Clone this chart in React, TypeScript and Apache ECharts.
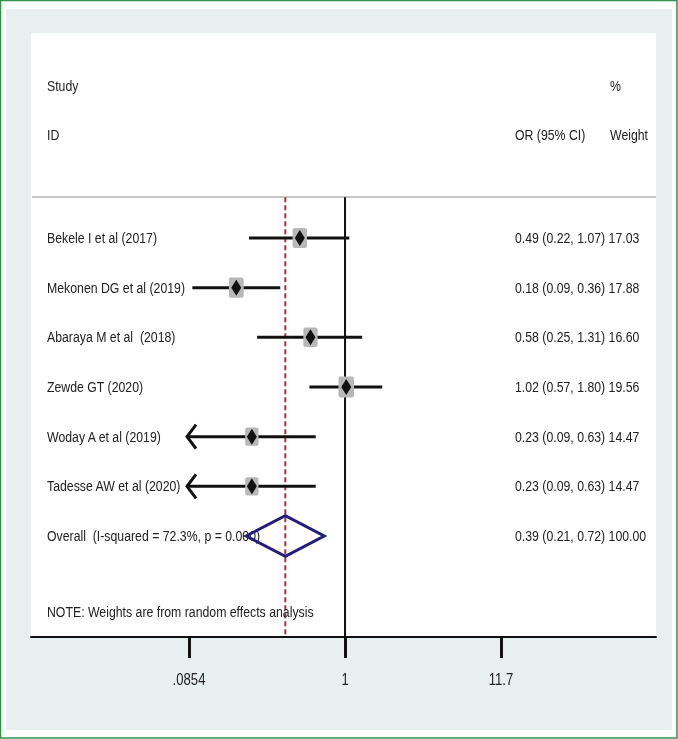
import React, { useEffect, useRef } from "react";
import * as echarts from "echarts";

// ---- data ----
const studies = [
  "Bekele I et al (2017)",
  "Mekonen DG et al (2019)",
  "Abaraya M et al  (2018)",
  "Zewde GT (2020)",
  "Woday A et al (2019)",
  "Tadesse AW et al (2020)",
];
const orValues = [0.49, 0.18, 0.58, 1.02, 0.23, 0.23];
const ciLower = [0.22, 0.09, 0.25, 0.57, 0.09, 0.09];
const ciUpper = [1.07, 0.36, 1.31, 1.8, 0.63, 0.63];
const weights = [17.03, 17.88, 16.6, 19.56, 14.47, 14.47];
const truncatedLeft = [false, false, false, false, true, true];

const overallLabel = "Overall  (I-squared = 72.3%, p = 0.000)";
const overallOR = 0.39;
const overallLower = 0.21;
const overallUpper = 0.72;
const overallWeight = 100.0;

const tickValues = [0.0854, 1, 11.7];
const tickLabels = [".0854", "1", "11.7"];

const FONT = "'Liberation Sans', Arial, Helvetica, sans-serif";
const TEXT_COLOR = "#222";
const FS = 15;
const SX = 0.82;

function txt(s: string, x: number, y: number, size = FS, align = "left") {
  return {
    type: "text",
    x,
    y,
    scaleX: SX,
    z: 5,
    style: {
      text: s,
      fill: TEXT_COLOR,
      font: `${size}px ${FONT}`,
      align,
      verticalAlign: "middle",
    },
  };
}

export default function App() {
  const ref = useRef<HTMLDivElement>(null);

  useEffect(() => {
    if (!ref.current) return;
    const chart = echarts.init(ref.current, undefined, { renderer: "svg" });

    const n = studies.length;
    const overallRow = n;
    const ln = (v: number) => Math.log(v);
    const ciData = studies.map((_, i) => [
      ln(ciLower[i]),
      ln(ciUpper[i]),
      i,
      truncatedLeft[i] ? 1 : 0,
    ]);
    const pointData = studies.map((_, i) => [ln(orValues[i]), i, weights[i]]);
    const textRows = [...studies.map((_, i) => i), overallRow];
    const fmtRow = (i: number) =>
      i < n
        ? `${orValues[i].toFixed(2)} (${ciLower[i].toFixed(2)}, ${ciUpper[i].toFixed(2)}) ${weights[i].toFixed(2)}`
        : `${overallOR.toFixed(2)} (${overallLower.toFixed(2)}, ${overallUpper.toFixed(2)}) ${overallWeight.toFixed(2)}`;

    const yMin = -4.127;
    const yMax = 8.033;
    const lineTop = -0.82;
    const tickLn = tickValues.map(ln);

    chart.setOption({
      animation: false,
      backgroundColor: "transparent",
      grid: { left: 31, right: 22, top: 33, bottom: 102 },
      xAxis: {
        type: "value",
        min: -4.953,
        max: 4.905,
        axisLine: { show: true, onZero: false, lineStyle: { color: "#111", width: 2 } },
        axisTick: {
          show: true,
          customValues: tickLn,
          length: 21,
          lineStyle: { color: "#111", width: 3 },
        },
        axisLabel: { show: false },
        splitLine: { show: false },
      },
      yAxis: {
        type: "value",
        inverse: true,
        min: yMin,
        max: yMax,
        show: false,
      },
      graphic: [
        {
          type: "rect",
          z: -20,
          shape: { x: 0.5, y: 0.5, width: 676.5, height: 737.5 },
          style: { fill: "#fff", stroke: "#2f9447", lineWidth: 1.5 },
        },
        {
          type: "rect",
          z: -19,
          shape: { x: 6, y: 9, width: 666, height: 721 },
          style: { fill: "#e8eff1" },
        },
        {
          type: "rect",
          z: -18,
          shape: { x: 31, y: 33, width: 625, height: 604 },
          style: { fill: "#ffffff" },
        },
        {
          type: "line",
          z: -17,
          shape: { x1: 32, y1: 197, x2: 656, y2: 197 },
          style: { stroke: "#c8c8c8", lineWidth: 2 },
        },
        txt("Study", 47, 86),
        txt("ID", 47, 135),
        txt("%", 610, 86),
        txt("OR (95% CI)", 515, 135),
        txt("Weight", 610, 135),
        txt("NOTE: Weights are from random effects analysis", 47, 612),
      ],
      series: [
        {
          type: "line",
          z: 1,
          symbol: "none",
          silent: true,
          lineStyle: { color: "#111", width: 2 },
          data: [
            [0, lineTop],
            [0, yMax],
          ],
        },
        {
          type: "line",
          z: 1,
          symbol: "none",
          silent: true,
          lineStyle: { color: "#a3323f", width: 2, type: [5, 3] },
          data: [
            [ln(overallOR), lineTop],
            [ln(overallOR), yMax],
          ],
        },
        {
          // tick labels, placed by the x scale
          type: "custom",
          z: 3,
          silent: true,
          clip: false,
          data: tickValues.map((t, k) => [ln(t), yMax, k]),
          encode: { x: 0, y: 1 },
          renderItem: (params: any, api: any) => {
            const p = api.coord([api.value(0), api.value(1)]);
            const k = api.value(2);
            return {
              type: "text",
              x: p[0],
              y: p[1] + 43,
              scaleX: SX,
              style: {
                text: tickLabels[k],
                fill: TEXT_COLOR,
                font: `16px ${FONT}`,
                align: "center",
                verticalAlign: "middle",
              },
            };
          },
        },
        {
          type: "custom",
          z: 3,
          silent: true,
          data: textRows.map((i) => [0, i]),
          encode: { x: 0, y: 1 },
          renderItem: (params: any, api: any) => {
            const row = api.value(1);
            const y = api.coord([0, row])[1];
            const cs = params.coordSys;
            const name = row < n ? studies[row] : overallLabel;
            return {
              type: "group",
              children: [
                txt(name, cs.x + 16, y),
                txt(fmtRow(row), cs.x + 484, y),
              ],
            };
          },
        },
        {
          type: "custom",
          z: 4,
          silent: true,
          data: ciData,
          encode: { x: [0, 1], y: 2 },
          renderItem: (params: any, api: any) => {
            const lo = api.value(0);
            const hi = api.value(1);
            const row = api.value(2);
            const trunc = api.value(3) === 1;
            const start = trunc ? tickLn[0] : lo;
            const p1 = api.coord([start, row]);
            const p2 = api.coord([hi, row]);
            const children: any[] = [
              {
                type: "line",
                shape: { x1: trunc ? p1[0] - 1 : p1[0], y1: p1[1], x2: p2[0], y2: p2[1] },
                style: { stroke: "#111", lineWidth: 3 },
              },
            ];
            if (trunc) {
              const tx = p1[0] - 2;
              children.push({
                type: "polyline",
                shape: {
                  points: [
                    [tx + 9, p1[1] - 12],
                    [tx, p1[1]],
                    [tx + 9, p1[1] + 12],
                  ],
                },
                style: { stroke: "#111", lineWidth: 3, fill: "none" },
              });
            }
            return { type: "group", children };
          },
        },
        {
          type: "custom",
          z: 5,
          silent: true,
          data: pointData,
          encode: { x: 0, y: 1 },
          renderItem: (params: any, api: any) => {
            const p = api.coord([api.value(0), api.value(1)]);
            const s = Math.sqrt(api.value(2));
            const w = 3.5 * s;
            const h = 4.8 * s;
            return {
              type: "group",
              children: [
                {
                  type: "rect",
                  shape: { x: p[0] - w / 2, y: p[1] - h / 2, width: w, height: h, r: 2 },
                  style: { fill: "#b8b8b8" },
                },
                {
                  type: "polygon",
                  shape: {
                    points: [
                      [p[0] - 5, p[1]],
                      [p[0], p[1] - 8],
                      [p[0] + 5, p[1]],
                      [p[0], p[1] + 8],
                    ],
                  },
                  style: { fill: "#111" },
                },
              ],
            };
          },
        },
        {
          type: "custom",
          z: 6,
          silent: true,
          data: [[ln(overallLower), ln(overallUpper), ln(overallOR), overallRow]],
          encode: { x: [0, 1, 2], y: 3 },
          renderItem: (params: any, api: any) => {
            const row = api.value(3);
            const l = api.coord([api.value(0), row]);
            const r = api.coord([api.value(1), row]);
            const t = api.coord([api.value(2), row - 0.41]);
            const b = api.coord([api.value(2), row + 0.41]);
            return {
              type: "polygon",
              shape: { points: [l, t, r, b] },
              style: { fill: "none", stroke: "#241c7c", lineWidth: 3, lineJoin: "miter" },
            };
          },
        },
      ],
    });

    return () => chart.dispose();
  }, []);

  return (
    <div
      ref={ref}
      style={{ position: "fixed", left: 0, top: 0, width: 678, height: 739 }}
    />
  );
}
